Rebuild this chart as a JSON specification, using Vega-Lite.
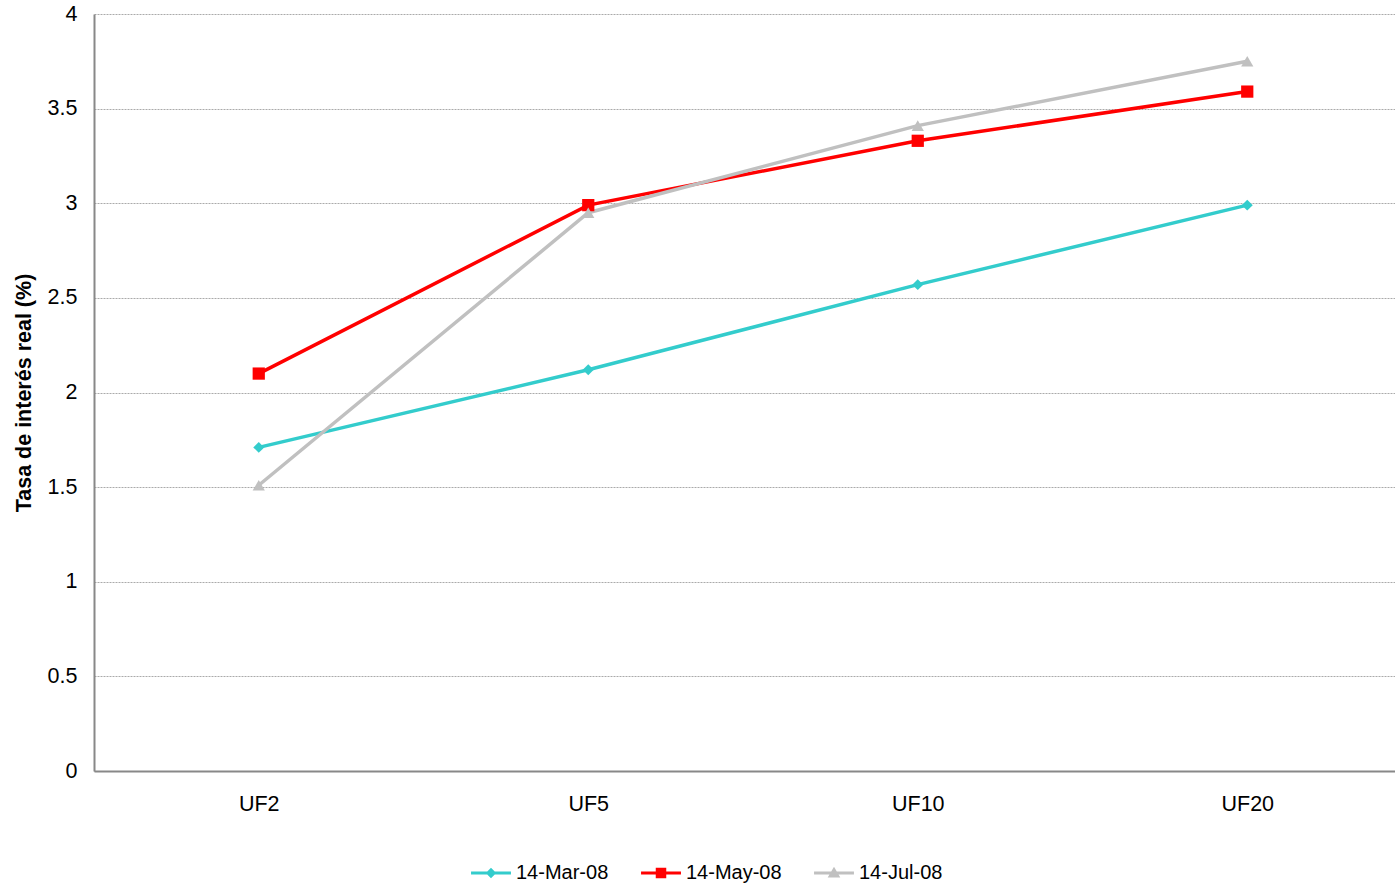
{
  "$schema": "https://vega.github.io/schema/vega-lite/v6.json",
  "autosize": "none",
  "width": 1318,
  "height": 757,
  "padding": {"left": 94, "top": 14, "right": 0, "bottom": 116},
  "background": "white",
  "config": {
    "font": "Liberation Sans",
    "view": {"stroke": null},
    "axis": {"labelFont": "Liberation Sans", "labelFontSize": 21.5, "labelColor": "#000", "ticks": false, "domainColor": "#888", "domainWidth": 2}
  },
  "data": {
    "values": [
      {"fecha": "14-Mar-08", "plazo": "UF2", "tasa": 1.71},
      {"fecha": "14-Mar-08", "plazo": "UF5", "tasa": 2.12},
      {"fecha": "14-Mar-08", "plazo": "UF10", "tasa": 2.57},
      {"fecha": "14-Mar-08", "plazo": "UF20", "tasa": 2.99},
      {"fecha": "14-May-08", "plazo": "UF2", "tasa": 2.10},
      {"fecha": "14-May-08", "plazo": "UF5", "tasa": 2.99},
      {"fecha": "14-May-08", "plazo": "UF10", "tasa": 3.33},
      {"fecha": "14-May-08", "plazo": "UF20", "tasa": 3.59},
      {"fecha": "14-Jul-08", "plazo": "UF2", "tasa": 1.51},
      {"fecha": "14-Jul-08", "plazo": "UF5", "tasa": 2.95},
      {"fecha": "14-Jul-08", "plazo": "UF10", "tasa": 3.41},
      {"fecha": "14-Jul-08", "plazo": "UF20", "tasa": 3.75}
    ]
  },
  "encoding": {
    "x": {"field": "plazo", "type": "ordinal", "sort": ["UF2", "UF5", "UF10", "UF20"], "title": null,
      "scale": {"paddingInner": 0, "paddingOuter": 0},
      "axis": {"labelAngle": 0, "labelPadding": 22, "grid": false}},
    "y": {"field": "tasa", "type": "quantitative", "title": "Tasa de interés real (%)",
      "scale": {"domain": [0, 4], "nice": false},
      "axis": {"values": [0, 0.5, 1, 1.5, 2, 2.5, 3, 3.5, 4], "format": "~g", "labelPadding": 17, "titleFontSize": 21.5, "titleFontWeight": "bold", "titleColor": "#000", "titlePadding": 12,
        "grid": true, "gridColor": "#aaa", "gridDash": [2, 1], "gridWidth": 1}},
    "color": {"field": "fecha", "type": "nominal", "title": null,
      "scale": {"domain": ["14-Mar-08", "14-May-08", "14-Jul-08"], "range": ["#33CCCC", "#FF0000", "#C0C0C0"]},
      "legend": {"orient": "none", "direction": "horizontal", "legendX": 376, "legendY": 838, "labelFontSize": 20, "labelFont": "Liberation Sans", "labelColor": "#000", "symbolSize": 1764, "labelOffset": 4, "columnPadding": 31, "symbolStrokeWidth": 0}}
  },
  "layer": [
    {
      "transform": [{"filter": "false"}],
      "mark": {"type": "point", "filled": true, "opacity": 1, "size": 1764},
      "encoding": {
        "shape": {"field": "fecha", "type": "nominal", "title": null,
          "scale": {"domain": ["14-Mar-08", "14-May-08", "14-Jul-08"],
            "range": [
              "M-0.95,-0.07H0.95V0.07H-0.95Z M0,-0.25L0.25,0L0,0.25L-0.25,0Z",
              "M-0.95,-0.07H0.95V0.07H-0.95Z M-0.25,-0.25H0.25V0.25H-0.25Z",
              "M-0.95,-0.07H0.95V0.07H-0.95Z M0,-0.3L0.3,0.22H-0.3Z"
            ]}}
      }
    },
    {"mark": {"type": "line", "strokeWidth": 3.5}, "encoding": {"detail": {"field": "fecha"}}},
    {"transform": [{"filter": "datum.fecha === '14-Mar-08'"}], "mark": {"type": "point", "shape": "diamond", "filled": true, "opacity": 1, "size": 120}},
    {"transform": [{"filter": "datum.fecha === '14-May-08'"}], "mark": {"type": "point", "shape": "square", "filled": true, "opacity": 1, "size": 150}},
    {"transform": [{"filter": "datum.fecha === '14-Jul-08'"}], "mark": {"type": "point", "shape": "triangle-up", "filled": true, "opacity": 1, "size": 150}}
  ]
}
